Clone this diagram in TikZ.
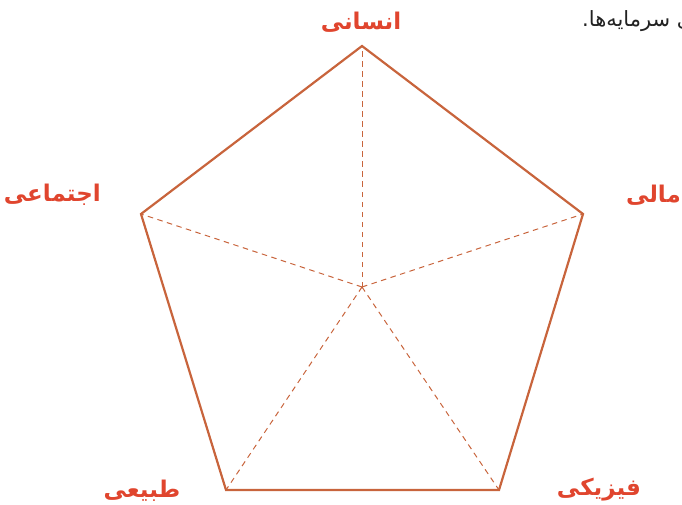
\documentclass[tikz,border=0pt]{standalone}
\usepackage{fontspec}
\TeXXeTstate=1
\newfontfamily\arabicfont[Script=Arabic]{DejaVu Sans}
\definecolor{edgecol}{HTML}{C8643C}
\definecolor{labcol}{HTML}{E0452E}
\definecolor{txtcol}{HTML}{222222}
\tikzset{
  edgeline/.style={draw=edgecol, line width=2.2pt, line join=miter},
  spoke/.style={draw=edgecol, line width=1pt, dash pattern=on 5.5pt off 4.5pt},
  lab/.style={text=labcol, font=\arabicfont\bfseries\fontsize{23}{26}\selectfont, inner sep=0pt},
  note/.style={text=txtcol, font=\arabicfont\fontsize{21}{24}\selectfont, inner sep=0pt}
}
\begin{document}
\begin{tikzpicture}[x=1pt,y=-1pt]
\useasboundingbox (0,0) rectangle (682,505);
\clip (0,0) rectangle (682,505);
\coordinate (T) at (362,46);
\coordinate (R) at (583,214);
\coordinate (BR) at (499,490);
\coordinate (BL) at (226,490);
\coordinate (L) at (141,214);
\coordinate (O) at (362,287);
\foreach \p in {T,R,BR,BL,L} \draw[spoke] (O) -- (\p);
\draw[edgeline] (T) -- (R) -- (BR) -- (BL) -- (L) -- cycle;
\node[lab] (nT) at (361,22) {\beginR انسانی\endR};
\node[lab, anchor=east] (nR) at (681,195) {\beginR مالی\endR};
\node[lab, anchor=east] (nL) at (101,195) {\beginR اجتماعی\endR};
\node[lab] (nBL) at (142,491) {\beginR طبیعی\endR};
\node[lab] (nBR) at (599,490) {\beginR فیزیکی\endR};
\node[note, anchor=west] (nNote) at (582,21) {\beginR ی سرمایه‌ها.\endR};
\end{tikzpicture}
\end{document}
